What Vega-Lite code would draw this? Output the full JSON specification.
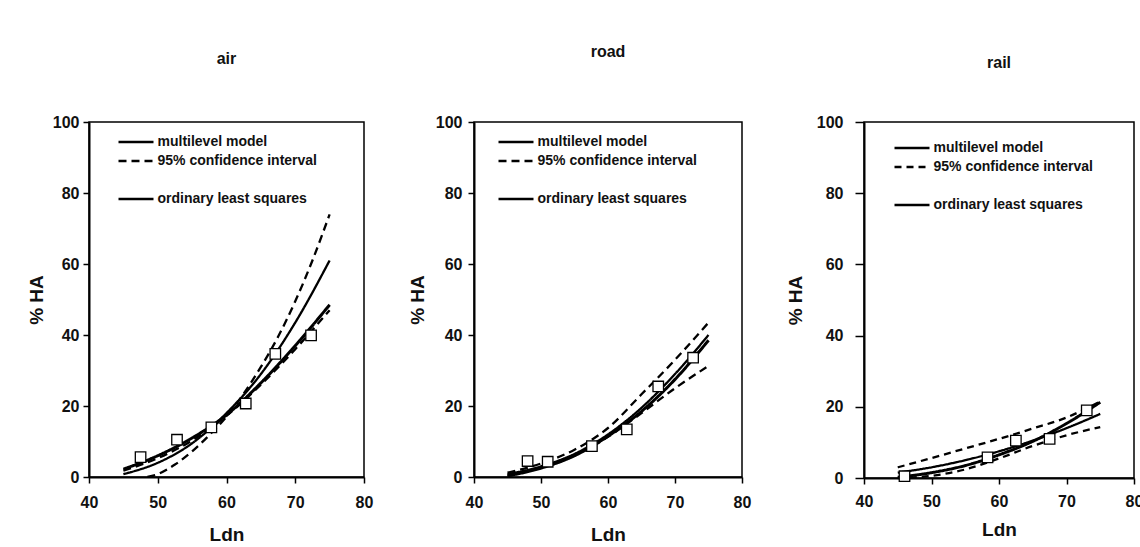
{
  "$schema": "https://vega.github.io/schema/vega-lite/v6.json",
  "padding": {"left": 26, "top": 43, "right": 0, "bottom": 0},
  "background": "white",
  "spacing": 33,
  "config": {
    "font": "Liberation Sans",
    "view": {"stroke": "black", "strokeWidth": 1.5},
    "axis": {
      "grid": false,
      "domainColor": "black",
      "domainWidth": 2,
      "tickColor": "black",
      "tickWidth": 1.5,
      "tickSize": 6,
      "labelColor": "#111",
      "labelFontSize": 16,
      "labelFontWeight": "bold",
      "labelFont": "Liberation Sans",
      "labelFlush": false,
      "titleColor": "#111",
      "titleFontSize": 19,
      "titleFontWeight": "bold",
      "titleFont": "Liberation Sans"
    },
    "title": {"fontSize": 16, "fontWeight": "bold", "color": "#111", "font": "Liberation Sans"},
    "legend": {
      "orient": "none",
      "padding": 0,
      "symbolType": "M-3.5,0H3.5",
      "symbolSize": 100,
      "symbolStrokeColor": "black",
      "symbolStrokeWidth": 2.6,
      "labelOffset": 14.5,
      "labelFontSize": 14,
      "labelFontWeight": "bold",
      "labelLimit": 400,
      "labelColor": "#111",
      "labelFont": "Liberation Sans",
      "rowPadding": 5
    }
  },
  "datasets": {
    "curves": [
      {"panel": "air", "series": "multilevel model", "line": "ml", "x": 45, "y": 0.8},
      {"panel": "air", "series": "multilevel model", "line": "ml", "x": 50, "y": 4},
      {"panel": "air", "series": "multilevel model", "line": "ml", "x": 55, "y": 9.5},
      {"panel": "air", "series": "multilevel model", "line": "ml", "x": 60, "y": 18},
      {"panel": "air", "series": "multilevel model", "line": "ml", "x": 65, "y": 29},
      {"panel": "air", "series": "multilevel model", "line": "ml", "x": 70, "y": 43.5},
      {"panel": "air", "series": "multilevel model", "line": "ml", "x": 75, "y": 61},
      {"panel": "air", "series": "ordinary least squares", "line": "ols", "x": 45, "y": 2.2},
      {"panel": "air", "series": "ordinary least squares", "line": "ols", "x": 50, "y": 6},
      {"panel": "air", "series": "ordinary least squares", "line": "ols", "x": 55, "y": 11},
      {"panel": "air", "series": "ordinary least squares", "line": "ols", "x": 60, "y": 17.5},
      {"panel": "air", "series": "ordinary least squares", "line": "ols", "x": 65, "y": 26.5},
      {"panel": "air", "series": "ordinary least squares", "line": "ols", "x": 70, "y": 37},
      {"panel": "air", "series": "ordinary least squares", "line": "ols", "x": 75, "y": 48.5},
      {"panel": "air", "series": "95% confidence interval", "line": "a", "x": 48.5, "y": 0},
      {"panel": "air", "series": "95% confidence interval", "line": "a", "x": 50, "y": 0.8},
      {"panel": "air", "series": "95% confidence interval", "line": "a", "x": 52.5, "y": 3.5},
      {"panel": "air", "series": "95% confidence interval", "line": "a", "x": 55, "y": 7.2},
      {"panel": "air", "series": "95% confidence interval", "line": "a", "x": 57.5, "y": 11.8},
      {"panel": "air", "series": "95% confidence interval", "line": "a", "x": 60, "y": 17},
      {"panel": "air", "series": "95% confidence interval", "line": "a", "x": 62.5, "y": 23.5},
      {"panel": "air", "series": "95% confidence interval", "line": "a", "x": 65, "y": 31},
      {"panel": "air", "series": "95% confidence interval", "line": "a", "x": 67.5, "y": 39.5},
      {"panel": "air", "series": "95% confidence interval", "line": "a", "x": 70, "y": 49.5},
      {"panel": "air", "series": "95% confidence interval", "line": "a", "x": 72.5, "y": 61},
      {"panel": "air", "series": "95% confidence interval", "line": "a", "x": 75, "y": 74},
      {"panel": "air", "series": "95% confidence interval", "line": "b", "x": 45, "y": 1.8},
      {"panel": "air", "series": "95% confidence interval", "line": "b", "x": 50, "y": 5.3},
      {"panel": "air", "series": "95% confidence interval", "line": "b", "x": 55, "y": 10.3},
      {"panel": "air", "series": "95% confidence interval", "line": "b", "x": 60, "y": 17.2},
      {"panel": "air", "series": "95% confidence interval", "line": "b", "x": 65, "y": 26},
      {"panel": "air", "series": "95% confidence interval", "line": "b", "x": 70, "y": 36},
      {"panel": "air", "series": "95% confidence interval", "line": "b", "x": 75, "y": 47},

      {"panel": "road", "series": "multilevel model", "line": "ml", "x": 45, "y": 0.8},
      {"panel": "road", "series": "multilevel model", "line": "ml", "x": 50, "y": 3},
      {"panel": "road", "series": "multilevel model", "line": "ml", "x": 55, "y": 6.5},
      {"panel": "road", "series": "multilevel model", "line": "ml", "x": 60, "y": 12},
      {"panel": "road", "series": "multilevel model", "line": "ml", "x": 65, "y": 19.5},
      {"panel": "road", "series": "multilevel model", "line": "ml", "x": 70, "y": 29},
      {"panel": "road", "series": "multilevel model", "line": "ml", "x": 75, "y": 40},
      {"panel": "road", "series": "ordinary least squares", "line": "ols", "x": 45, "y": 0.3},
      {"panel": "road", "series": "ordinary least squares", "line": "ols", "x": 50, "y": 2.5},
      {"panel": "road", "series": "ordinary least squares", "line": "ols", "x": 55, "y": 6},
      {"panel": "road", "series": "ordinary least squares", "line": "ols", "x": 60, "y": 11.5},
      {"panel": "road", "series": "ordinary least squares", "line": "ols", "x": 65, "y": 18.5},
      {"panel": "road", "series": "ordinary least squares", "line": "ols", "x": 70, "y": 27.5},
      {"panel": "road", "series": "ordinary least squares", "line": "ols", "x": 75, "y": 38.5},
      {"panel": "road", "series": "95% confidence interval", "line": "a", "x": 45, "y": 1.2},
      {"panel": "road", "series": "95% confidence interval", "line": "a", "x": 50, "y": 3.8},
      {"panel": "road", "series": "95% confidence interval", "line": "a", "x": 55, "y": 7.7},
      {"panel": "road", "series": "95% confidence interval", "line": "a", "x": 60, "y": 13.8},
      {"panel": "road", "series": "95% confidence interval", "line": "a", "x": 65, "y": 23.3},
      {"panel": "road", "series": "95% confidence interval", "line": "a", "x": 70, "y": 33},
      {"panel": "road", "series": "95% confidence interval", "line": "a", "x": 75, "y": 43.5},
      {"panel": "road", "series": "95% confidence interval", "line": "b", "x": 45, "y": 0.4},
      {"panel": "road", "series": "95% confidence interval", "line": "b", "x": 50, "y": 2.6},
      {"panel": "road", "series": "95% confidence interval", "line": "b", "x": 55, "y": 6},
      {"panel": "road", "series": "95% confidence interval", "line": "b", "x": 60, "y": 11.3},
      {"panel": "road", "series": "95% confidence interval", "line": "b", "x": 65, "y": 18},
      {"panel": "road", "series": "95% confidence interval", "line": "b", "x": 70, "y": 25},
      {"panel": "road", "series": "95% confidence interval", "line": "b", "x": 75, "y": 31.3},

      {"panel": "rail", "series": "multilevel model", "line": "ml", "x": 45, "y": 1.5},
      {"panel": "rail", "series": "multilevel model", "line": "ml", "x": 50, "y": 3},
      {"panel": "rail", "series": "multilevel model", "line": "ml", "x": 55, "y": 5},
      {"panel": "rail", "series": "multilevel model", "line": "ml", "x": 60, "y": 7.5},
      {"panel": "rail", "series": "multilevel model", "line": "ml", "x": 65, "y": 10.5},
      {"panel": "rail", "series": "multilevel model", "line": "ml", "x": 70, "y": 14},
      {"panel": "rail", "series": "multilevel model", "line": "ml", "x": 75, "y": 18},
      {"panel": "rail", "series": "ordinary least squares", "line": "ols", "x": 45, "y": 0.2},
      {"panel": "rail", "series": "ordinary least squares", "line": "ols", "x": 50, "y": 1.5},
      {"panel": "rail", "series": "ordinary least squares", "line": "ols", "x": 55, "y": 3.5},
      {"panel": "rail", "series": "ordinary least squares", "line": "ols", "x": 60, "y": 6.5},
      {"panel": "rail", "series": "ordinary least squares", "line": "ols", "x": 65, "y": 10.3},
      {"panel": "rail", "series": "ordinary least squares", "line": "ols", "x": 70, "y": 15.3},
      {"panel": "rail", "series": "ordinary least squares", "line": "ols", "x": 75, "y": 21.3},
      {"panel": "rail", "series": "95% confidence interval", "line": "a", "x": 45, "y": 3},
      {"panel": "rail", "series": "95% confidence interval", "line": "a", "x": 50, "y": 5.6},
      {"panel": "rail", "series": "95% confidence interval", "line": "a", "x": 55, "y": 8.3},
      {"panel": "rail", "series": "95% confidence interval", "line": "a", "x": 60, "y": 11},
      {"panel": "rail", "series": "95% confidence interval", "line": "a", "x": 65, "y": 13.9},
      {"panel": "rail", "series": "95% confidence interval", "line": "a", "x": 70, "y": 17},
      {"panel": "rail", "series": "95% confidence interval", "line": "a", "x": 75, "y": 21.5},
      {"panel": "rail", "series": "95% confidence interval", "line": "b", "x": 45, "y": 0},
      {"panel": "rail", "series": "95% confidence interval", "line": "b", "x": 50, "y": 0.6},
      {"panel": "rail", "series": "95% confidence interval", "line": "b", "x": 55, "y": 2.4},
      {"panel": "rail", "series": "95% confidence interval", "line": "b", "x": 60, "y": 5.5},
      {"panel": "rail", "series": "95% confidence interval", "line": "b", "x": 65, "y": 9},
      {"panel": "rail", "series": "95% confidence interval", "line": "b", "x": 70, "y": 12},
      {"panel": "rail", "series": "95% confidence interval", "line": "b", "x": 75, "y": 14.3}
    ],
    "points": [
      {"panel": "air", "x": 47.5, "y": 5.6},
      {"panel": "air", "x": 52.8, "y": 10.5},
      {"panel": "air", "x": 57.8, "y": 14},
      {"panel": "air", "x": 62.8, "y": 20.7},
      {"panel": "air", "x": 67.1, "y": 34.7},
      {"panel": "air", "x": 72.3, "y": 39.9},
      {"panel": "road", "x": 48, "y": 4.5},
      {"panel": "road", "x": 51, "y": 4.3},
      {"panel": "road", "x": 57.6, "y": 8.7},
      {"panel": "road", "x": 62.8, "y": 13.4},
      {"panel": "road", "x": 67.5, "y": 25.5},
      {"panel": "road", "x": 72.7, "y": 33.6},
      {"panel": "rail", "x": 46, "y": 0.5},
      {"panel": "rail", "x": 58.3, "y": 5.8},
      {"panel": "rail", "x": 62.5, "y": 10.5},
      {"panel": "rail", "x": 67.5, "y": 11},
      {"panel": "rail", "x": 73, "y": 19}
    ]
  },
  "resolve": {"scale": {"strokeDash": "independent"}, "legend": {"strokeDash": "independent"}},
  "hconcat": [
    {
      "width": 275, "height": 355,
      "title": {"text": "air", "offset": 47},
      "layer": [
        {
          "data": {"name": "curves"},
          "transform": [{"filter": "datum.panel === 'air'"}],
          "mark": {"type": "line", "color": "black", "interpolate": "monotone"},
          "encoding": {
            "x": {"field": "x", "type": "quantitative", "scale": {"domain": [40, 80], "nice": false, "zero": false},
                  "axis": {"values": [40, 50, 60, 70, 80], "title": "Ldn", "labelPadding": 11, "titlePadding": 15}},
            "y": {"field": "y", "type": "quantitative", "scale": {"domain": [0, 100], "nice": false},
                  "axis": {"values": [0, 20, 40, 60, 80, 100], "title": "% HA", "labelPadding": 4, "titlePadding": 6}},
            "detail": {"field": "line"},
            "strokeDash": {"field": "series", "type": "nominal",
              "scale": {"domain": ["multilevel model", "95% confidence interval", " ", "ordinary least squares"], "range": [[1, 0], [8, 5], [0, 100], [1, 0]]},
              "legend": {"title": null, "legendX": 40, "legendY": 13}},
            "strokeWidth": {"condition": {"test": "datum.series === 'ordinary least squares'", "value": 3}, "value": 2.3}
          }
        },
        {
          "data": {"name": "points"},
          "transform": [{"filter": "datum.panel === 'air'"}],
          "mark": {"type": "point", "shape": "square", "filled": true, "fill": "white", "stroke": "black", "strokeWidth": 1.3, "size": 110, "opacity": 1},
          "encoding": {
            "x": {"field": "x", "type": "quantitative"},
            "y": {"field": "y", "type": "quantitative"}
          }
        }
      ]
    },
    {
      "width": 268, "height": 355,
      "title": {"text": "road", "offset": 54},
      "layer": [
        {
          "data": {"name": "curves"},
          "transform": [{"filter": "datum.panel === 'road'"}],
          "mark": {"type": "line", "color": "black", "interpolate": "monotone"},
          "encoding": {
            "x": {"field": "x", "type": "quantitative", "scale": {"domain": [40, 80], "nice": false, "zero": false},
                  "axis": {"values": [40, 50, 60, 70, 80], "title": "Ldn", "labelPadding": 11, "titlePadding": 15}},
            "y": {"field": "y", "type": "quantitative", "scale": {"domain": [0, 100], "nice": false},
                  "axis": {"values": [0, 20, 40, 60, 80, 100], "title": "% HA", "labelPadding": 6, "titlePadding": 8}},
            "detail": {"field": "line"},
            "strokeDash": {"field": "series", "type": "nominal",
              "scale": {"domain": ["multilevel model", "95% confidence interval", " ", "ordinary least squares"], "range": [[1, 0], [8, 5], [0, 100], [1, 0]]},
              "legend": {"title": null, "legendX": 35, "legendY": 13}},
            "strokeWidth": {"condition": {"test": "datum.series === 'ordinary least squares'", "value": 3}, "value": 2.3}
          }
        },
        {
          "data": {"name": "points"},
          "transform": [{"filter": "datum.panel === 'road'"}],
          "mark": {"type": "point", "shape": "square", "filled": true, "fill": "white", "stroke": "black", "strokeWidth": 1.3, "size": 110, "opacity": 1},
          "encoding": {
            "x": {"field": "x", "type": "quantitative"},
            "y": {"field": "y", "type": "quantitative"}
          }
        }
      ]
    },
    {
      "width": 270, "height": 356,
      "title": {"text": "rail", "offset": 43},
      "layer": [
        {
          "data": {"name": "curves"},
          "transform": [{"filter": "datum.panel === 'rail'"}],
          "mark": {"type": "line", "color": "black", "interpolate": "monotone"},
          "encoding": {
            "x": {"field": "x", "type": "quantitative", "scale": {"domain": [40, 80], "nice": false, "zero": false},
                  "axis": {"values": [40, 50, 60, 70, 80], "title": "Ldn", "labelPadding": 9, "titlePadding": 11}},
            "y": {"field": "y", "type": "quantitative", "scale": {"domain": [0, 100], "nice": false},
                  "axis": {"values": [0, 20, 40, 60, 80, 100], "title": "% HA", "labelPadding": 12, "titlePadding": 11, "tickSize": 9}},
            "detail": {"field": "line"},
            "strokeDash": {"field": "series", "type": "nominal",
              "scale": {"domain": ["multilevel model", "95% confidence interval", " ", "ordinary least squares"], "range": [[1, 0], [7, 5], [0, 100], [1, 0]]},
              "legend": {"title": null, "legendX": 41, "legendY": 19}},
            "strokeWidth": {"condition": {"test": "datum.series === 'ordinary least squares'", "value": 3}, "value": 2.3}
          }
        },
        {
          "data": {"name": "points"},
          "transform": [{"filter": "datum.panel === 'rail'"}],
          "mark": {"type": "point", "shape": "square", "filled": true, "fill": "white", "stroke": "black", "strokeWidth": 1.3, "size": 110, "opacity": 1},
          "encoding": {
            "x": {"field": "x", "type": "quantitative"},
            "y": {"field": "y", "type": "quantitative"}
          }
        }
      ]
    }
  ]
}
